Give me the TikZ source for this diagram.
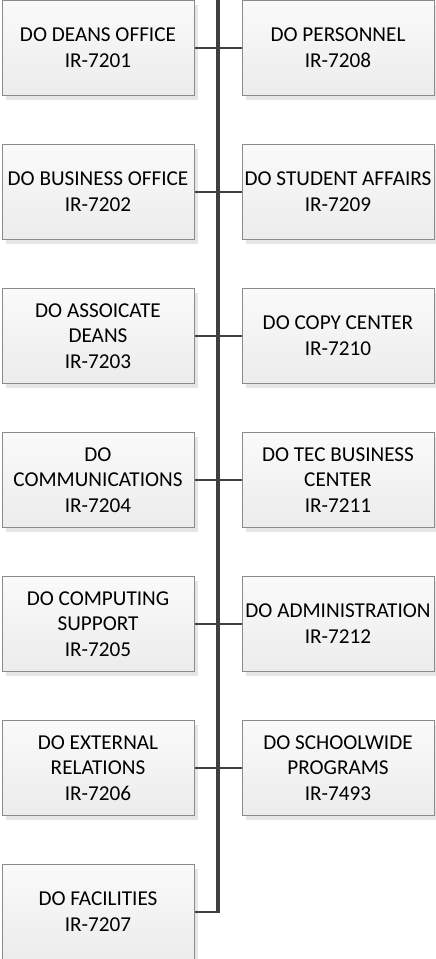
\documentclass[tikz,border=0pt]{standalone}
\usepackage{fontspec}
\setmainfont{Carlito}
\usetikzlibrary{shadows}
\definecolor{boxtop}{HTML}{FAFAFA}
\definecolor{boxbottom}{HTML}{ECECEC}
\definecolor{boxborder}{HTML}{8A8A8A}
\definecolor{shadowgray}{HTML}{E6E6E6}
\definecolor{trunkgray}{HTML}{404040}
\begin{document}
\begin{tikzpicture}[
  x=0.5pt, y=-0.5pt,
  orgbox/.style = {draw=boxborder, line width=0.5pt, top color=boxtop, bottom color=boxbottom,
    minimum width=96pt, minimum height=47.5pt, inner sep=0pt, align=center,
    font=\fontsize{10.6}{12.9}\selectfont,
    drop shadow={shadow xshift=2pt, shadow yshift=-2pt, fill=shadowgray, opacity=1}},
  trunk/.style = {draw=trunkgray, line width=2pt},
  branch/.style = {draw=trunkgray, line width=1.1pt}
  ]
	\useasboundingbox (0,0) rectangle (435,959);

	% left column
	\node[orgbox] (ir7201) at (98,48)  {DO DEANS OFFICE\\IR-7201};
	\node[orgbox] (ir7202) at (98,192) {DO BUSINESS OFFICE\\IR-7202};
	\node[orgbox] (ir7203) at (98,336) {DO ASSOICATE\\DEANS\\IR-7203};
	\node[orgbox] (ir7204) at (98,480) {DO\\COMMUNICATIONS\\IR-7204};
	\node[orgbox] (ir7205) at (98,624) {DO COMPUTING\\SUPPORT\\IR-7205};
	\node[orgbox] (ir7206) at (98,768) {DO EXTERNAL\\RELATIONS\\IR-7206};
	\node[orgbox] (ir7207) at (98,912) {DO FACILITIES\\IR-7207};

	% right column
	\node[orgbox] (ir7208) at (338,48)  {DO PERSONNEL\\IR-7208};
	\node[orgbox] (ir7209) at (338,192) {DO STUDENT AFFAIRS\\IR-7209};
	\node[orgbox] (ir7210) at (338,336) {DO COPY CENTER\\IR-7210};
	\node[orgbox] (ir7211) at (338,480) {DO TEC BUSINESS\\CENTER\\IR-7211};
	\node[orgbox] (ir7212) at (338,624) {DO ADMINISTRATION\\IR-7212};
	\node[orgbox] (ir7493) at (338,768) {DO SCHOOLWIDE\\PROGRAMS\\IR-7493};

	% trunk
	\coordinate (top) at (218,-5);
	\coordinate (bottom) at (218,912);
	\draw[trunk] (top) -- ([yshift=-0.55pt]bottom);

	\foreach \n in {ir7201,ir7202,ir7203,ir7204,ir7205,ir7206,ir7207,ir7208,ir7209,ir7210,ir7211,ir7212,ir7493}
		\draw[branch] (\n) -- (\n -| top);

\end{tikzpicture}
\end{document}
